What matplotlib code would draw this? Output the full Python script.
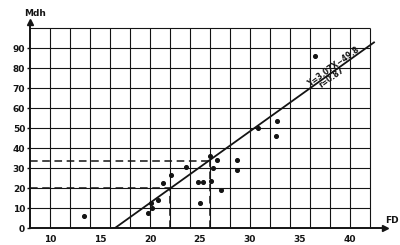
import numpy as np
import matplotlib
matplotlib.use("Agg")
import matplotlib.pyplot as plt

# data
fd = [13.4, 19.8, 20.2, 20.1, 20.8, 21.3, 22.1, 23.6, 24.8, 25.3, 25.0,
      26.0, 26.7, 26.3, 26.1, 27.1, 28.7, 28.7, 30.8, 32.7, 32.6, 36.5]
mdh = [5.8, 7.7, 10.2, 12.7, 14.0, 22.7, 26.5, 30.3, 22.8, 22.8, 12.3,
       36.2, 34.0, 30.0, 23.7, 19.0, 34.0, 29.0, 50.0, 53.3, 46.0, 86.0]

# regression line as drawn (Y = 3.07X - 49.8)
line_x = [16.5, 42.4]
line_y = [0, 92.8]

# dashed read-off guides
guide_x = [22, 26]
guide_y = [20, 33.5]

x_ticks = [10, 15, 20, 25, 30, 35, 40]
y_ticks = [0, 10, 20, 30, 40, 50, 60, 70, 80, 90]

ink = "#141414"
plt.rcParams["font.family"] = "DejaVu Sans"

fig = plt.figure(figsize=(4, 2.45), dpi=100)
ax = fig.add_axes([0.075, 17 / 245, 355 / 400, 206 / 245])
ax.set_xlim(8, 43.5)
ax.set_ylim(0, 103)

# grid (2 units in x, 10 units in y)
ax.vlines(np.arange(10, 43, 2), 0, 100, color=ink, lw=0.8, zorder=1)
ax.hlines(np.arange(10, 101, 10), 8, 42, color=ink, lw=0.8, zorder=1)

# dashed guides
for gx, gy in zip(guide_x, guide_y):
    ax.plot([8, gx], [gy, gy], ls=(0, (5, 3)), color=ink, lw=1.1, zorder=2)
    ax.plot([gx, gx], [0, gy], ls=(0, (5, 3)), color=ink, lw=1.1, zorder=2)

ax.plot(line_x, line_y, color=ink, lw=1.3, zorder=3)
ax.scatter(fd, mdh, s=7, color=ink, zorder=4)

# equation along the line
ang = np.degrees(np.arctan2(186, 258))
ax.text(38.4, 80.5, "Y=3.07X\u221249.8", rotation=ang, rotation_mode="anchor",
        ha="center", va="center", fontsize=5.5, fontweight="bold", color=ink)
ax.text(38.2, 75.2, "r=0.87", rotation=ang, rotation_mode="anchor",
        ha="center", va="center", fontsize=5.5, fontweight="bold", color=ink)

# axes with arrows
for s in ["top", "right"]:
    ax.spines[s].set_visible(False)
ax.spines["left"].set_linewidth(1.4)
ax.spines["bottom"].set_linewidth(1.4)
ax.spines["left"].set_color(ink)
ax.spines["bottom"].set_color(ink)
ax.plot(1, 0, ">", transform=ax.transAxes, clip_on=False, ms=4, color=ink)
ax.plot(0, 1, "^", transform=ax.transAxes, clip_on=False, ms=4, color=ink)

ax.set_xticks(x_ticks)
ax.set_yticks(y_ticks)
ax.tick_params(axis="x", length=0, pad=5, labelsize=6.5, colors=ink)
ax.tick_params(axis="y", length=2.5, width=1, pad=1, labelsize=6.5, colors=ink)
for lab in ax.get_xticklabels() + ax.get_yticklabels():
    lab.set_fontweight("bold")

fig.text(35 / 400, 1 - 13 / 245, "Mdh", ha="center", va="center",
         fontsize=6.5, fontweight="bold", color=ink)
fig.text(392 / 400, 1 - 220 / 245, "FD", ha="center", va="center",
         fontsize=6.5, fontweight="bold", color=ink)

fig.savefig("out.png", dpi=100, facecolor="white")
